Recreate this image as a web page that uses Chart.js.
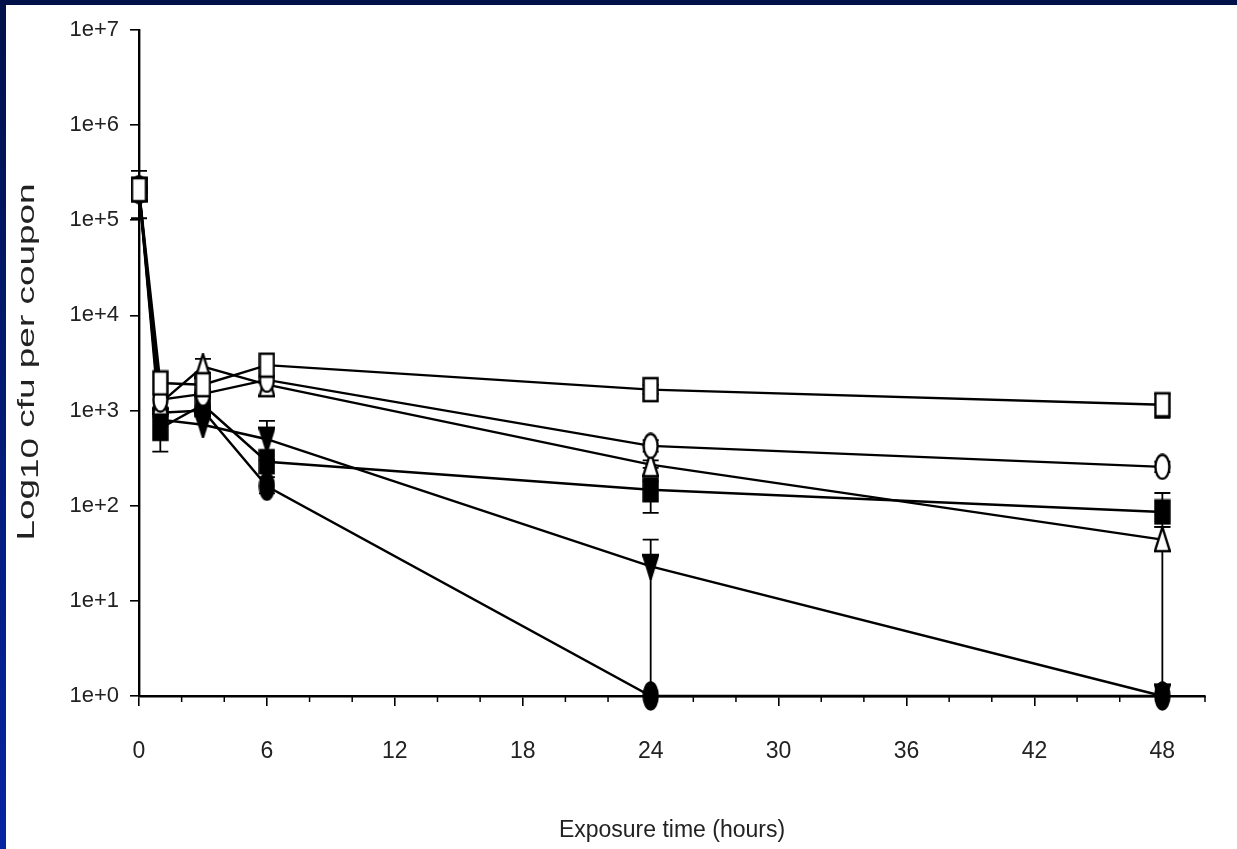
<!DOCTYPE html>
<html><head><meta charset="utf-8">
<script src="https://cdn.jsdelivr.net/npm/chart.js@4.4.1/dist/chart.umd.min.js"></script>
<style>
html,body{margin:0;padding:0;width:1237px;height:849px;overflow:hidden;background:linear-gradient(#00114a,#0624a2);}
#panel{position:absolute;left:6px;top:5px;width:1231px;height:844px;background:#fff;}
#c{position:absolute;left:0;top:0;}
</style></head><body>
<div id="panel"></div>
<canvas id="c" width="1237" height="849"></canvas>
<script>
// ---- data ----
const times = [0, 1, 3, 6, 24, 48];
const xTickValues = [0,2,4,6,8,10,12,14,16,18,20,22,24,26,28,30,32,34,36,38,40,42,44,46,48,50];
const xTickLabels = ['0','','','6','','','12','','','18','','','24','','','30','','','36','','','42','','','48',''];
const yTickValues = [1, 10, 100, 1000, 10000, 100000, 1000000, 10000000];
const yTickLabels = ['1e+0','1e+1','1e+2','1e+3','1e+4','1e+5','1e+6','1e+7'];
const xTitle = 'Exposure time (hours)';
const yTitleParts = ['Log', '10', ' cfu per coupon'];

const openSquare   = [210000, 1950, 1870, 3000, 1660, 1150];
const openCircle   = [210000, 1300, 1500, 2100, 425, 256];
const openTriangle = [210000, 1200, 2900, 1870, 270, 44];
const filledSquare = [210000, 650, 1150, 290, 147, 86];
const filledTriDown= [210000, 800, 710, 500, 23, 1];
const filledCircle = [210000, 950, 1000, 160, 1, 1];

// error bars: [low, high] or null, per time point
const openSquareErr   = [[105000, 330000], null, null, null, [1500, 1850], [840, 1500]];
const openCircleErr   = [null, null, null, null, [370, 490], [225, 290]];
const openTriangleErr = [null, null, [2500, 3500], null, [250, 300], [1, 60]];
const filledSquareErr = [null, [370, 1000], null, null, [84, 180], [60, 136]];
const filledTriDownErr= [null, null, null, [300, 780], [1, 44], null];
const filledCircleErr = [null, null, null, [135, 200], null, null];

// ---- marker glyphs ----
function marker(shape, filled) {
  const w = 17, h = shape === 'circle' && filled ? 30 : 27;
  const c = document.createElement('canvas');
  c.width = w; c.height = h;
  const g = c.getContext('2d');
  g.lineWidth = 2.4; g.strokeStyle = '#000'; g.fillStyle = filled ? '#000' : '#fff';
  g.beginPath();
  if (shape === 'rect') g.rect(1.5, 2, 14, h - 4);
  else if (shape === 'circle') g.ellipse(w/2, h/2, 7, h/2 - 1.5, 0, 0, Math.PI*2);
  else if (shape === 'tri') { g.moveTo(w/2, 1); g.lineTo(w - 1, h - 2); g.lineTo(1, h - 2); g.closePath(); }
  else if (shape === 'triDown') { g.moveTo(1, 2); g.lineTo(w - 1, 2); g.lineTo(w/2, h - 1); g.closePath(); }
  g.fill(); g.stroke();
  return c;
}

const series = [
  {name: 'open square', vals: openSquare, err: openSquareErr, mk: marker('rect', false)},
  {name: 'open circle', vals: openCircle, err: openCircleErr, mk: marker('circle', false)},
  {name: 'open triangle', vals: openTriangle, err: openTriangleErr, mk: marker('tri', false)},
  {name: 'filled square', vals: filledSquare, err: filledSquareErr, mk: marker('rect', true)},
  {name: 'filled inverted triangle', vals: filledTriDown, err: filledTriDownErr, mk: marker('triDown', true)},
  {name: 'filled circle', vals: filledCircle, err: filledCircleErr, mk: marker('circle', true)},
];

const FONT = '"Liberation Sans", Arial, sans-serif';

const errorBars = {
  id: 'errorBars',
  beforeDatasetsDraw(chart) {
    const {ctx, scales: {x, y}} = chart;
    ctx.save();
    ctx.strokeStyle = '#000'; ctx.lineWidth = 1.8;
    chart.data.datasets.forEach(ds => {
      ds.errorBars.forEach((e, i) => {
        if (!e) return;
        const px = x.getPixelForValue(times[i]);
        const y1 = y.getPixelForValue(e[0]), y2 = y.getPixelForValue(e[1]);
        ctx.beginPath();
        ctx.moveTo(px, y1); ctx.lineTo(px, y2);
        if (e[0] > 1) { ctx.moveTo(px - 8, y1); ctx.lineTo(px + 8, y1); }
        ctx.moveTo(px - 8, y2); ctx.lineTo(px + 8, y2);
        ctx.stroke();
      });
    });
    ctx.restore();
  }
};

const extras = {
  id: 'extras',
  afterDraw(chart) {
    const {ctx, scales: {x, y}} = chart;
    ctx.save();
    // minor x ticks
    ctx.strokeStyle = '#000'; ctx.lineWidth = 1.5;
    x.ticks.forEach((t, i) => {
      if (xTickLabels[i] !== '') return;
      const px = x.getPixelForValue(t.value);
      ctx.beginPath(); ctx.moveTo(px, x.top); ctx.lineTo(px, x.top + 6); ctx.stroke();
    });
    // y title (rotated, stretched)
    const size = 24;
    const cx = 27, cy = 362, len = 357;
    ctx.fillStyle = '#222';
    ctx.textBaseline = 'middle';
    ctx.font = size + 'px ' + FONT;
    const w0 = ctx.measureText(yTitleParts[0]).width;
    const w1 = ctx.measureText(yTitleParts[1]).width;
    const w2 = ctx.measureText(yTitleParts[2]).width;
    const total = w0 + w1 + w2;
    const sx = len / total;
    ctx.translate(cx, cy);
    ctx.rotate(-Math.PI / 2);
    ctx.scale(sx, 1);
    let xx = -total / 2;
    ctx.textAlign = 'left';
    ctx.fillText(yTitleParts[0], xx, 0); xx += w0;
    ctx.fillText(yTitleParts[1], xx, 4); xx += w1;
    ctx.fillText(yTitleParts[2], xx, 0);
    ctx.restore();
  }
};

new Chart(document.getElementById('c'), {
  type: 'line',
  data: {
    datasets: series.map(s => ({
      label: s.name,
      data: times.map((t, i) => ({x: t, y: s.vals[i]})),
      errorBars: s.err,
      borderColor: '#000',
      borderWidth: 2.4,
      pointStyle: s.mk,
      pointRadius: 8,
      pointHoverRadius: 8,
      tension: 0,
      fill: false,
      clip: false
    }))
  },
  options: {
    responsive: false,
    animation: false,
    events: [],
    layout: {padding: {left: 0, top: 30, right: 32, bottom: 0}},
    plugins: {legend: {display: false}, tooltip: {enabled: false}, title: {display: false}},
    scales: {
      x: {
        type: 'linear', min: 0, max: 50,
        afterBuildTicks: s => { s.ticks = xTickValues.map(v => ({value: v})); },
        afterFit: s => { s.height = 153; },
        ticks: {
          autoSkip: false, maxRotation: 0,
          callback: (v) => xTickLabels[xTickValues.indexOf(v)],
          font: {family: FONT, size: 23}, color: '#222', padding: 32
        },
        grid: {drawOnChartArea: false, tickLength: 10, lineWidth: 1.6,
               tickColor: c => (c.tick && xTickLabels[xTickValues.indexOf(c.tick.value)] !== '') ? '#000' : 'rgba(0,0,0,0)'},
        border: {color: '#000', width: 2.4},
        title: {display: true, text: xTitle, font: {family: FONT, size: 23}, color: '#222', padding: {top: 0, bottom: 5}}
      },
      y: {
        type: 'logarithmic', min: 1, max: 10000000,
        afterBuildTicks: s => { s.ticks = yTickValues.map(v => ({value: v})); },
        afterFit: s => { s.width = 139; },
        ticks: {
          autoSkip: false,
          callback: (v) => yTickLabels[yTickValues.indexOf(v)],
          font: {family: FONT, size: 22}, color: '#222', padding: 11
        },
        grid: {drawOnChartArea: false, tickLength: 9, lineWidth: 1.6, tickColor: '#000'},
        border: {color: '#000', width: 2.4}
      }
    }
  },
  plugins: [errorBars, extras]
});
</script>
</body></html>
